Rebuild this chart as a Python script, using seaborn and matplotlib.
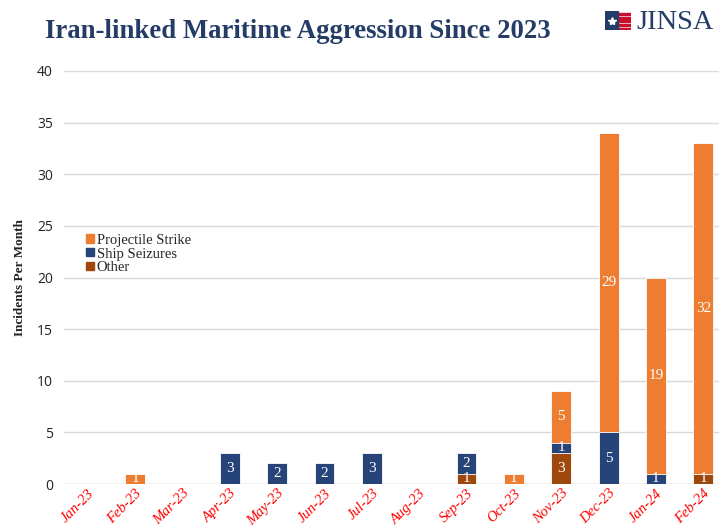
import pandas as pd
import numpy as np
import matplotlib
matplotlib.use("Agg")
import matplotlib.pyplot as plt
import matplotlib.patches as mpatches
import seaborn as sns

# Monthly incident counts
months = ["Jan-23", "Feb-23", "Mar-23", "Apr-23", "May-23", "Jun-23", "Jul-23",
          "Aug-23", "Sep-23", "Oct-23", "Nov-23", "Dec-23", "Jan-24", "Feb-24"]
other = [0, 0, 0, 0, 0, 0, 0, 0, 1, 0, 3, 0, 0, 1]
ship_seizures = [0, 0, 0, 3, 2, 2, 3, 0, 2, 0, 1, 5, 1, 0]
projectile = [0, 1, 0, 0, 0, 0, 0, 0, 0, 1, 5, 29, 19, 32]

C_PROJ = "#ED7D31"
C_SHIP = "#264478"
C_OTHER = "#9E480E"
NAVY = "#253d66"

df = pd.DataFrame({"month": months, "other": other,
                   "ship": ship_seizures, "proj": projectile})
df["lvl_other"] = df["other"]
df["lvl_ship"] = df["other"] + df["ship"]
df["lvl_proj"] = df["lvl_ship"] + df["proj"]

sns.set_theme(style="white")
plt.rcParams["font.family"] = ["Liberation Serif", "DejaVu Serif"]

fig = plt.figure(figsize=(7.19, 5.27), dpi=100)
ax = fig.add_axes([64 / 719, 43 / 527, 663 / 719, 413 / 527])

# stacked bars: draw cumulative totals from top layer down
bar_kw = dict(width=0.42, edgecolor="white", linewidth=0.6, ax=ax, order=months)
sns.barplot(data=df, x="month", y="lvl_proj", color=C_PROJ, saturation=1, **bar_kw)
sns.barplot(data=df, x="month", y="lvl_ship", color=C_SHIP, saturation=1, **bar_kw)
sns.barplot(data=df, x="month", y="lvl_other", color=C_OTHER, saturation=1, **bar_kw)

# segment labels
for i, row in df.iterrows():
    for val, base in [(row["other"], 0), (row["ship"], row["lvl_other"]),
                      (row["proj"], row["lvl_ship"])]:
        if val > 0:
            ax.text(i, base + val / 2, str(val), ha="center", va="center",
                    color="white", fontsize=11)

ax.set_ylim(0, 40)
ax.set_xlim(-0.5, len(months) - 0.5)
ax.set_yticks(range(0, 41, 5))
ax.yaxis.grid(True, color="#d9d9d9", linewidth=1)
ax.set_axisbelow(True)
for s in ax.spines.values():
    s.set_visible(False)
ax.axhline(0, color="#d9d9d9", linewidth=1, zorder=0)

ax.tick_params(axis="y", length=0, pad=8)
ax.tick_params(axis="x", length=0, pad=2)
for lab in ax.get_yticklabels():
    lab.set_fontfamily("Open Sans")
    lab.set_fontsize(10)
    lab.set_color("#222222")
ax.set_xticks(range(len(months)))
ax.set_xticklabels(months, rotation=45, ha="right", rotation_mode="anchor",
                   color="red", fontsize=10.5, style="italic")
ax.set_xlabel("")
ax.set_ylabel("Incidents Per Month", fontsize=9.5, fontweight="bold",
              color="#222222", labelpad=8)

handles = [mpatches.Patch(color=C_PROJ, label="Projectile Strike"),
           mpatches.Patch(color=C_SHIP, label="Ship Seizures"),
           mpatches.Patch(color=C_OTHER, label="Other")]
ax.legend(handles=handles, loc="upper left", bbox_to_anchor=(0.025, 0.62),
          frameon=False, fontsize=10.5, handlelength=0.5, handleheight=0.5,
          handletextpad=0.2, labelspacing=0.05, borderaxespad=0)

fig.text(45 / 719, 0.94, "Iran-linked Maritime Aggression Since 2023",
         fontsize=19.3, fontweight="bold", color=NAVY, va="center")

# small JINSA mark
lax = fig.add_axes([605 / 719, 497 / 527, 26 / 719, 19 / 527])
lax.set_xlim(0, 1)
lax.set_ylim(0, 1)
lax.axis("off")
for k in range(5):
    lax.add_patch(mpatches.Rectangle((0, k / 5), 1, 0.1, color="#c8102e"))
lax.add_patch(mpatches.Rectangle((0, 0), 0.5, 1, color=NAVY))
lax.plot([0.25], [0.5], marker="*", color="white", markersize=6)
fig.text(636 / 719, 0.958, "JINSA", fontsize=20.5, color=NAVY, va="center")

fig.savefig("out.png", dpi=100)
